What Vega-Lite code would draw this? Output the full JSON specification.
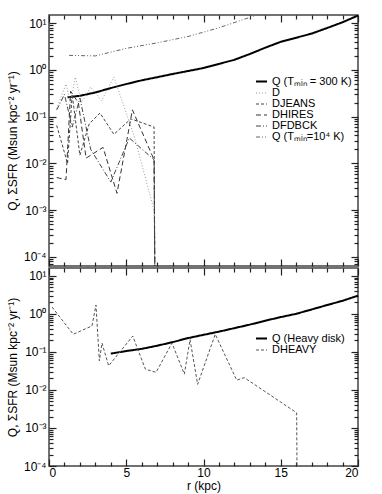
{
  "$schema": "https://vega.github.io/schema/vega-lite/v6.json",
  "padding": {"left": 5, "top": 13, "right": 17, "bottom": 1},
  "spacing": -8,
  "background": "white",
  "config": {
    "view": {"stroke": "#444444", "strokeWidth": 1.5},
    "axis": {"domain": false, "ticks": true, "labelFont": "Liberation Sans", "labelFontSize": 12, "labelColor": "#000", "tickColor": "#222222", "tickWidth": 1.2, "grid": false, "titleFont": "Liberation Sans", "titleFontSize": 12, "titleFontWeight": "normal", "titleColor": "#000"},
    "legend": {"labelFont": "Liberation Sans", "labelFontSize": 11, "labelColor": "#000", "symbolType": "stroke", "symbolSize": 121, "rowPadding": -1, "title": null, "padding": 0}
  },
  "datasets": {
    "top": [
      {"r": 1.2, "v": 0.26, "s": "Q (Tₘᵢₙ = 300 K)"},
      {"r": 2, "v": 0.28, "s": "Q (Tₘᵢₙ = 300 K)"},
      {"r": 3, "v": 0.33, "s": "Q (Tₘᵢₙ = 300 K)"},
      {"r": 4, "v": 0.41, "s": "Q (Tₘᵢₙ = 300 K)"},
      {"r": 5, "v": 0.5, "s": "Q (Tₘᵢₙ = 300 K)"},
      {"r": 6, "v": 0.6, "s": "Q (Tₘᵢₙ = 300 K)"},
      {"r": 7, "v": 0.7, "s": "Q (Tₘᵢₙ = 300 K)"},
      {"r": 8, "v": 0.82, "s": "Q (Tₘᵢₙ = 300 K)"},
      {"r": 9, "v": 0.95, "s": "Q (Tₘᵢₙ = 300 K)"},
      {"r": 10, "v": 1.1, "s": "Q (Tₘᵢₙ = 300 K)"},
      {"r": 11, "v": 1.35, "s": "Q (Tₘᵢₙ = 300 K)"},
      {"r": 12, "v": 1.65, "s": "Q (Tₘᵢₙ = 300 K)"},
      {"r": 13, "v": 2.2, "s": "Q (Tₘᵢₙ = 300 K)"},
      {"r": 14, "v": 3.0, "s": "Q (Tₘᵢₙ = 300 K)"},
      {"r": 15, "v": 4.0, "s": "Q (Tₘᵢₙ = 300 K)"},
      {"r": 16, "v": 4.9, "s": "Q (Tₘᵢₙ = 300 K)"},
      {"r": 17, "v": 6.0, "s": "Q (Tₘᵢₙ = 300 K)"},
      {"r": 18, "v": 7.9, "s": "Q (Tₘᵢₙ = 300 K)"},
      {"r": 19, "v": 10.5, "s": "Q (Tₘᵢₙ = 300 K)"},
      {"r": 20, "v": 14.6, "s": "Q (Tₘᵢₙ = 300 K)"},
      {"r": 0.5, "v": 0.15, "s": "D"},
      {"r": 1.1, "v": 0.5, "s": "D"},
      {"r": 1.4, "v": 0.2, "s": "D"},
      {"r": 1.7, "v": 0.7, "s": "D"},
      {"r": 2.1, "v": 0.2, "s": "D"},
      {"r": 2.7, "v": 0.43, "s": "D"},
      {"r": 3.4, "v": 0.22, "s": "D"},
      {"r": 4.2, "v": 0.7, "s": "D"},
      {"r": 5.5, "v": 0.04, "s": "D"},
      {"r": 6.8, "v": 0.001, "s": "D"},
      {"r": 6.85, "v": 0.00005, "s": "D"},
      {"r": 0.5, "v": 0.065, "s": "DJEANS"},
      {"r": 1.2, "v": 0.01, "s": "DJEANS"},
      {"r": 1.5, "v": 0.3, "s": "DJEANS"},
      {"r": 2.0, "v": 0.015, "s": "DJEANS"},
      {"r": 2.6, "v": 0.07, "s": "DJEANS"},
      {"r": 3.3, "v": 0.12, "s": "DJEANS"},
      {"r": 4.2, "v": 0.042, "s": "DJEANS"},
      {"r": 5.3, "v": 0.09, "s": "DJEANS"},
      {"r": 6.8, "v": 0.06, "s": "DJEANS"},
      {"r": 6.85, "v": 0.00005, "s": "DJEANS"},
      {"r": 0.5, "v": 0.005, "s": "DHIRES"},
      {"r": 1.1, "v": 0.0045, "s": "DHIRES"},
      {"r": 1.4, "v": 0.35, "s": "DHIRES"},
      {"r": 1.9, "v": 0.2, "s": "DHIRES"},
      {"r": 2.4, "v": 0.013, "s": "DHIRES"},
      {"r": 3.5, "v": 0.022, "s": "DHIRES"},
      {"r": 4.4, "v": 0.0023, "s": "DHIRES"},
      {"r": 5.4, "v": 0.14, "s": "DHIRES"},
      {"r": 6.8, "v": 0.012, "s": "DHIRES"},
      {"r": 6.85, "v": 0.00005, "s": "DHIRES"},
      {"r": 0.5, "v": 0.14, "s": "DFDBCK"},
      {"r": 1.0, "v": 0.3, "s": "DFDBCK"},
      {"r": 1.5, "v": 0.06, "s": "DFDBCK"},
      {"r": 2.0, "v": 0.25, "s": "DFDBCK"},
      {"r": 2.7, "v": 0.02, "s": "DFDBCK"},
      {"r": 4.0, "v": 0.004, "s": "DFDBCK"},
      {"r": 5.2, "v": 0.035, "s": "DFDBCK"},
      {"r": 6.8, "v": 0.012, "s": "DFDBCK"},
      {"r": 6.85, "v": 0.00005, "s": "DFDBCK"},
      {"r": 1.3, "v": 2.05, "s": "Q (Tₘᵢₙ=10⁴ K)"},
      {"r": 3, "v": 2.0, "s": "Q (Tₘᵢₙ=10⁴ K)"},
      {"r": 5, "v": 2.9, "s": "Q (Tₘᵢₙ=10⁴ K)"},
      {"r": 7, "v": 3.8, "s": "Q (Tₘᵢₙ=10⁴ K)"},
      {"r": 9, "v": 5.2, "s": "Q (Tₘᵢₙ=10⁴ K)"},
      {"r": 11, "v": 8.0, "s": "Q (Tₘᵢₙ=10⁴ K)"},
      {"r": 13.4, "v": 14.8, "s": "Q (Tₘᵢₙ=10⁴ K)"},
      {"r": 14, "v": 18, "s": "Q (Tₘᵢₙ=10⁴ K)"}
    ],
    "bottom": [
      {"r": 4, "v": 0.09, "s": "Q (Heavy disk)"},
      {"r": 5, "v": 0.105, "s": "Q (Heavy disk)"},
      {"r": 6, "v": 0.12, "s": "Q (Heavy disk)"},
      {"r": 7, "v": 0.145, "s": "Q (Heavy disk)"},
      {"r": 8, "v": 0.18, "s": "Q (Heavy disk)"},
      {"r": 9, "v": 0.23, "s": "Q (Heavy disk)"},
      {"r": 10, "v": 0.28, "s": "Q (Heavy disk)"},
      {"r": 11, "v": 0.34, "s": "Q (Heavy disk)"},
      {"r": 12, "v": 0.42, "s": "Q (Heavy disk)"},
      {"r": 13, "v": 0.52, "s": "Q (Heavy disk)"},
      {"r": 14, "v": 0.66, "s": "Q (Heavy disk)"},
      {"r": 15, "v": 0.82, "s": "Q (Heavy disk)"},
      {"r": 16, "v": 1.0, "s": "Q (Heavy disk)"},
      {"r": 17, "v": 1.3, "s": "Q (Heavy disk)"},
      {"r": 18, "v": 1.7, "s": "Q (Heavy disk)"},
      {"r": 19, "v": 2.2, "s": "Q (Heavy disk)"},
      {"r": 20, "v": 3.0, "s": "Q (Heavy disk)"},
      {"r": 0.2, "v": 1.5, "s": "DHEAVY"},
      {"r": 1.57, "v": 0.29, "s": "DHEAVY"},
      {"r": 2.78, "v": 0.48, "s": "DHEAVY"},
      {"r": 3.04, "v": 1.7, "s": "DHEAVY"},
      {"r": 3.26, "v": 0.058, "s": "DHEAVY"},
      {"r": 3.43, "v": 0.17, "s": "DHEAVY"},
      {"r": 3.86, "v": 0.043, "s": "DHEAVY"},
      {"r": 5.42, "v": 0.26, "s": "DHEAVY"},
      {"r": 6.24, "v": 0.035, "s": "DHEAVY"},
      {"r": 6.93, "v": 0.029, "s": "DHEAVY"},
      {"r": 7.96, "v": 0.17, "s": "DHEAVY"},
      {"r": 8.76, "v": 0.026, "s": "DHEAVY"},
      {"r": 9.13, "v": 0.21, "s": "DHEAVY"},
      {"r": 9.62, "v": 0.014, "s": "DHEAVY"},
      {"r": 10.76, "v": 0.29, "s": "DHEAVY"},
      {"r": 12.15, "v": 0.018, "s": "DHEAVY"},
      {"r": 12.64, "v": 0.021, "s": "DHEAVY"},
      {"r": 16.03, "v": 0.0025, "s": "DHEAVY"},
      {"r": 16.05, "v": 0.0001, "s": "DHEAVY"}
    ]
  },
  "resolve": {"scale": {"x": "independent", "y": "independent", "color": "independent", "strokeDash": "independent", "strokeWidth": "independent"}, "legend": {"color": "independent", "strokeDash": "independent", "strokeWidth": "independent"}},
  "vconcat": [
    {
      "width": 309,
      "height": 251,
      "data": {"name": "top"},
      "resolve": {"axis": {"x": "independent", "y": "independent"}},
      "layer": [
        {
          "mark": {"type": "line", "clip": true},
          "encoding": {
            "x": {"field": "r", "type": "quantitative", "scale": {"domain": [0, 20], "nice": false},
              "axis": {"orient": "bottom", "values": [0, 5, 10, 15, 20], "labels": false, "title": null, "offset": -7, "tickSize": 7}},
            "y": {"field": "v", "type": "quantitative", "scale": {"type": "log", "domain": [0.000064, 15], "nice": false},
              "axis": {"orient": "left", "title": "Q, ΣSFR (Msun kpc⁻² yr⁻¹)", "titlePadding": 4, "labelPadding": 3, "offset": -7, "tickSize": 7,
                "values": [0.0001, 0.001, 0.01, 0.1, 1, 10],
                "labelExpr": "['10⁻⁴','10⁻³','10⁻²','10⁻¹','10⁰','10¹'][round(log(datum.value)/LN10)+4]"}},
            "color": {"field": "s", "type": "nominal", "scale": {"domain": ["Q (Tₘᵢₙ = 300 K)", "D", "DJEANS", "DHIRES", "DFDBCK", "Q (Tₘᵢₙ=10⁴ K)"], "range": ["#000000", "#9a9a9a", "#444444", "#333333", "#444444", "#666666"]},
              "legend": {"orient": "none", "legendX": 206, "legendY": 60}},
            "strokeDash": {"field": "s", "type": "nominal", "scale": {"domain": ["Q (Tₘᵢₙ = 300 K)", "D", "DJEANS", "DHIRES", "DFDBCK", "Q (Tₘᵢₙ=10⁴ K)"], "range": [[1, 0], [1, 2], [3, 2], [5, 3], [5, 2, 1, 2], [4, 2, 1, 2, 1, 2]]},
              "legend": {"orient": "none", "legendX": 206, "legendY": 60}},
            "strokeWidth": {"field": "s", "type": "nominal", "scale": {"type": "ordinal", "domain": ["Q (Tₘᵢₙ = 300 K)", "D", "DJEANS", "DHIRES", "DFDBCK", "Q (Tₘᵢₙ=10⁴ K)"], "range": [2, 1, 1, 1, 1, 1]},
              "legend": {"orient": "none", "legendX": 206, "legendY": 60}}
          }
        },
        {
          "mark": {"type": "point", "opacity": 0, "clip": true},
          "encoding": {
            "x": {"field": "r", "type": "quantitative",
              "axis": {"orient": "top", "values": [0, 5, 10, 15, 20], "labels": false, "title": null, "offset": -7, "tickSize": 7}},
            "y": {"field": "v", "type": "quantitative",
              "axis": {"orient": "right", "title": null, "labels": false, "offset": -7, "tickSize": 7, "values": [0.0001, 0.001, 0.01, 0.1, 1, 10]}}
          }
        },
        {
          "mark": {"type": "point", "opacity": 0, "clip": true},
          "encoding": {
            "x": {"field": "r", "type": "quantitative",
              "axis": {"orient": "bottom", "values": [1,2,3,4,6,7,8,9,11,12,13,14,16,17,18,19], "labels": false, "title": null, "offset": -4, "tickSize": 4}},
            "y": {"field": "v", "type": "quantitative",
              "axis": {"orient": "left", "title": null, "labels": false, "offset": -4, "tickSize": 4,
                "values": [0.00007,0.00008,0.00009,0.0002,0.0003,0.0004,0.0005,0.0006,0.0007,0.0008,0.0009,0.002,0.003,0.004,0.005,0.006,0.007,0.008,0.009,0.02,0.03,0.04,0.05,0.06,0.07,0.08,0.09,0.2,0.3,0.4,0.5,0.6,0.7,0.8,0.9,2,3,4,5,6,7,8,9]}}
          }
        },
        {
          "mark": {"type": "point", "opacity": 0, "clip": true},
          "encoding": {
            "x": {"field": "r", "type": "quantitative",
              "axis": {"orient": "top", "values": [1,2,3,4,6,7,8,9,11,12,13,14,16,17,18,19], "labels": false, "title": null, "offset": -4, "tickSize": 4}},
            "y": {"field": "v", "type": "quantitative",
              "axis": {"orient": "right", "title": null, "labels": false, "offset": -4, "tickSize": 4,
                "values": [0.00007,0.00008,0.00009,0.0002,0.0003,0.0004,0.0005,0.0006,0.0007,0.0008,0.0009,0.002,0.003,0.004,0.005,0.006,0.007,0.008,0.009,0.02,0.03,0.04,0.05,0.06,0.07,0.08,0.09,0.2,0.3,0.4,0.5,0.6,0.7,0.8,0.9,2,3,4,5,6,7,8,9]}}
          }
        }
      ]
    },
    {
      "width": 309,
      "height": 198,
      "data": {"name": "bottom"},
      "resolve": {"axis": {"x": "independent", "y": "independent"}},
      "layer": [
        {
          "mark": {"type": "line", "clip": true},
          "encoding": {
            "x": {"field": "r", "type": "quantitative", "scale": {"domain": [0, 20], "nice": false},
              "axis": {"orient": "bottom", "values": [0, 5, 10, 15, 20], "title": "r (kpc)", "titlePadding": 2, "labelPadding": 1, "offset": -7, "tickSize": 7}},
            "y": {"field": "v", "type": "quantitative", "scale": {"type": "log", "domain": [0.0001, 16], "nice": false},
              "axis": {"orient": "left", "title": "Q, ΣSFR (Msun kpc⁻² yr⁻¹)", "titlePadding": 4, "labelPadding": 3, "offset": -7, "tickSize": 7,
                "values": [0.0001, 0.001, 0.01, 0.1, 1, 10],
                "labelExpr": "['10⁻⁴','10⁻³','10⁻²','10⁻¹','10⁰','10¹'][round(log(datum.value)/LN10)+4]"}},
            "color": {"field": "s", "type": "nominal", "scale": {"domain": ["Q (Heavy disk)", "DHEAVY"], "range": ["#000000", "#555555"]},
              "legend": {"orient": "none", "legendX": 206, "legendY": 64}},
            "strokeDash": {"field": "s", "type": "nominal", "scale": {"domain": ["Q (Heavy disk)", "DHEAVY"], "range": [[1, 0], [3, 2]]},
              "legend": {"orient": "none", "legendX": 206, "legendY": 64}},
            "strokeWidth": {"field": "s", "type": "nominal", "scale": {"type": "ordinal", "domain": ["Q (Heavy disk)", "DHEAVY"], "range": [2, 1]},
              "legend": {"orient": "none", "legendX": 206, "legendY": 64}}
          }
        },
        {
          "mark": {"type": "point", "opacity": 0, "clip": true},
          "encoding": {
            "x": {"field": "r", "type": "quantitative",
              "axis": {"orient": "top", "values": [0, 5, 10, 15, 20], "labels": false, "title": null, "offset": -7, "tickSize": 7}},
            "y": {"field": "v", "type": "quantitative",
              "axis": {"orient": "right", "title": null, "labels": false, "offset": -7, "tickSize": 7, "values": [0.0001, 0.001, 0.01, 0.1, 1, 10]}}
          }
        },
        {
          "mark": {"type": "point", "opacity": 0, "clip": true},
          "encoding": {
            "x": {"field": "r", "type": "quantitative",
              "axis": {"orient": "bottom", "values": [1,2,3,4,6,7,8,9,11,12,13,14,16,17,18,19], "labels": false, "title": null, "offset": -4, "tickSize": 4}},
            "y": {"field": "v", "type": "quantitative",
              "axis": {"orient": "left", "title": null, "labels": false, "offset": -4, "tickSize": 4,
                "values": [0.0002,0.0003,0.0004,0.0005,0.0006,0.0007,0.0008,0.0009,0.002,0.003,0.004,0.005,0.006,0.007,0.008,0.009,0.02,0.03,0.04,0.05,0.06,0.07,0.08,0.09,0.2,0.3,0.4,0.5,0.6,0.7,0.8,0.9,2,3,4,5,6,7,8,9]}}
          }
        },
        {
          "mark": {"type": "point", "opacity": 0, "clip": true},
          "encoding": {
            "x": {"field": "r", "type": "quantitative",
              "axis": {"orient": "top", "values": [1,2,3,4,6,7,8,9,11,12,13,14,16,17,18,19], "labels": false, "title": null, "offset": -4, "tickSize": 4}},
            "y": {"field": "v", "type": "quantitative",
              "axis": {"orient": "right", "title": null, "labels": false, "offset": -4, "tickSize": 4,
                "values": [0.0002,0.0003,0.0004,0.0005,0.0006,0.0007,0.0008,0.0009,0.002,0.003,0.004,0.005,0.006,0.007,0.008,0.009,0.02,0.03,0.04,0.05,0.06,0.07,0.08,0.09,0.2,0.3,0.4,0.5,0.6,0.7,0.8,0.9,2,3,4,5,6,7,8,9]}}
          }
        }
      ]
    }
  ]
}
